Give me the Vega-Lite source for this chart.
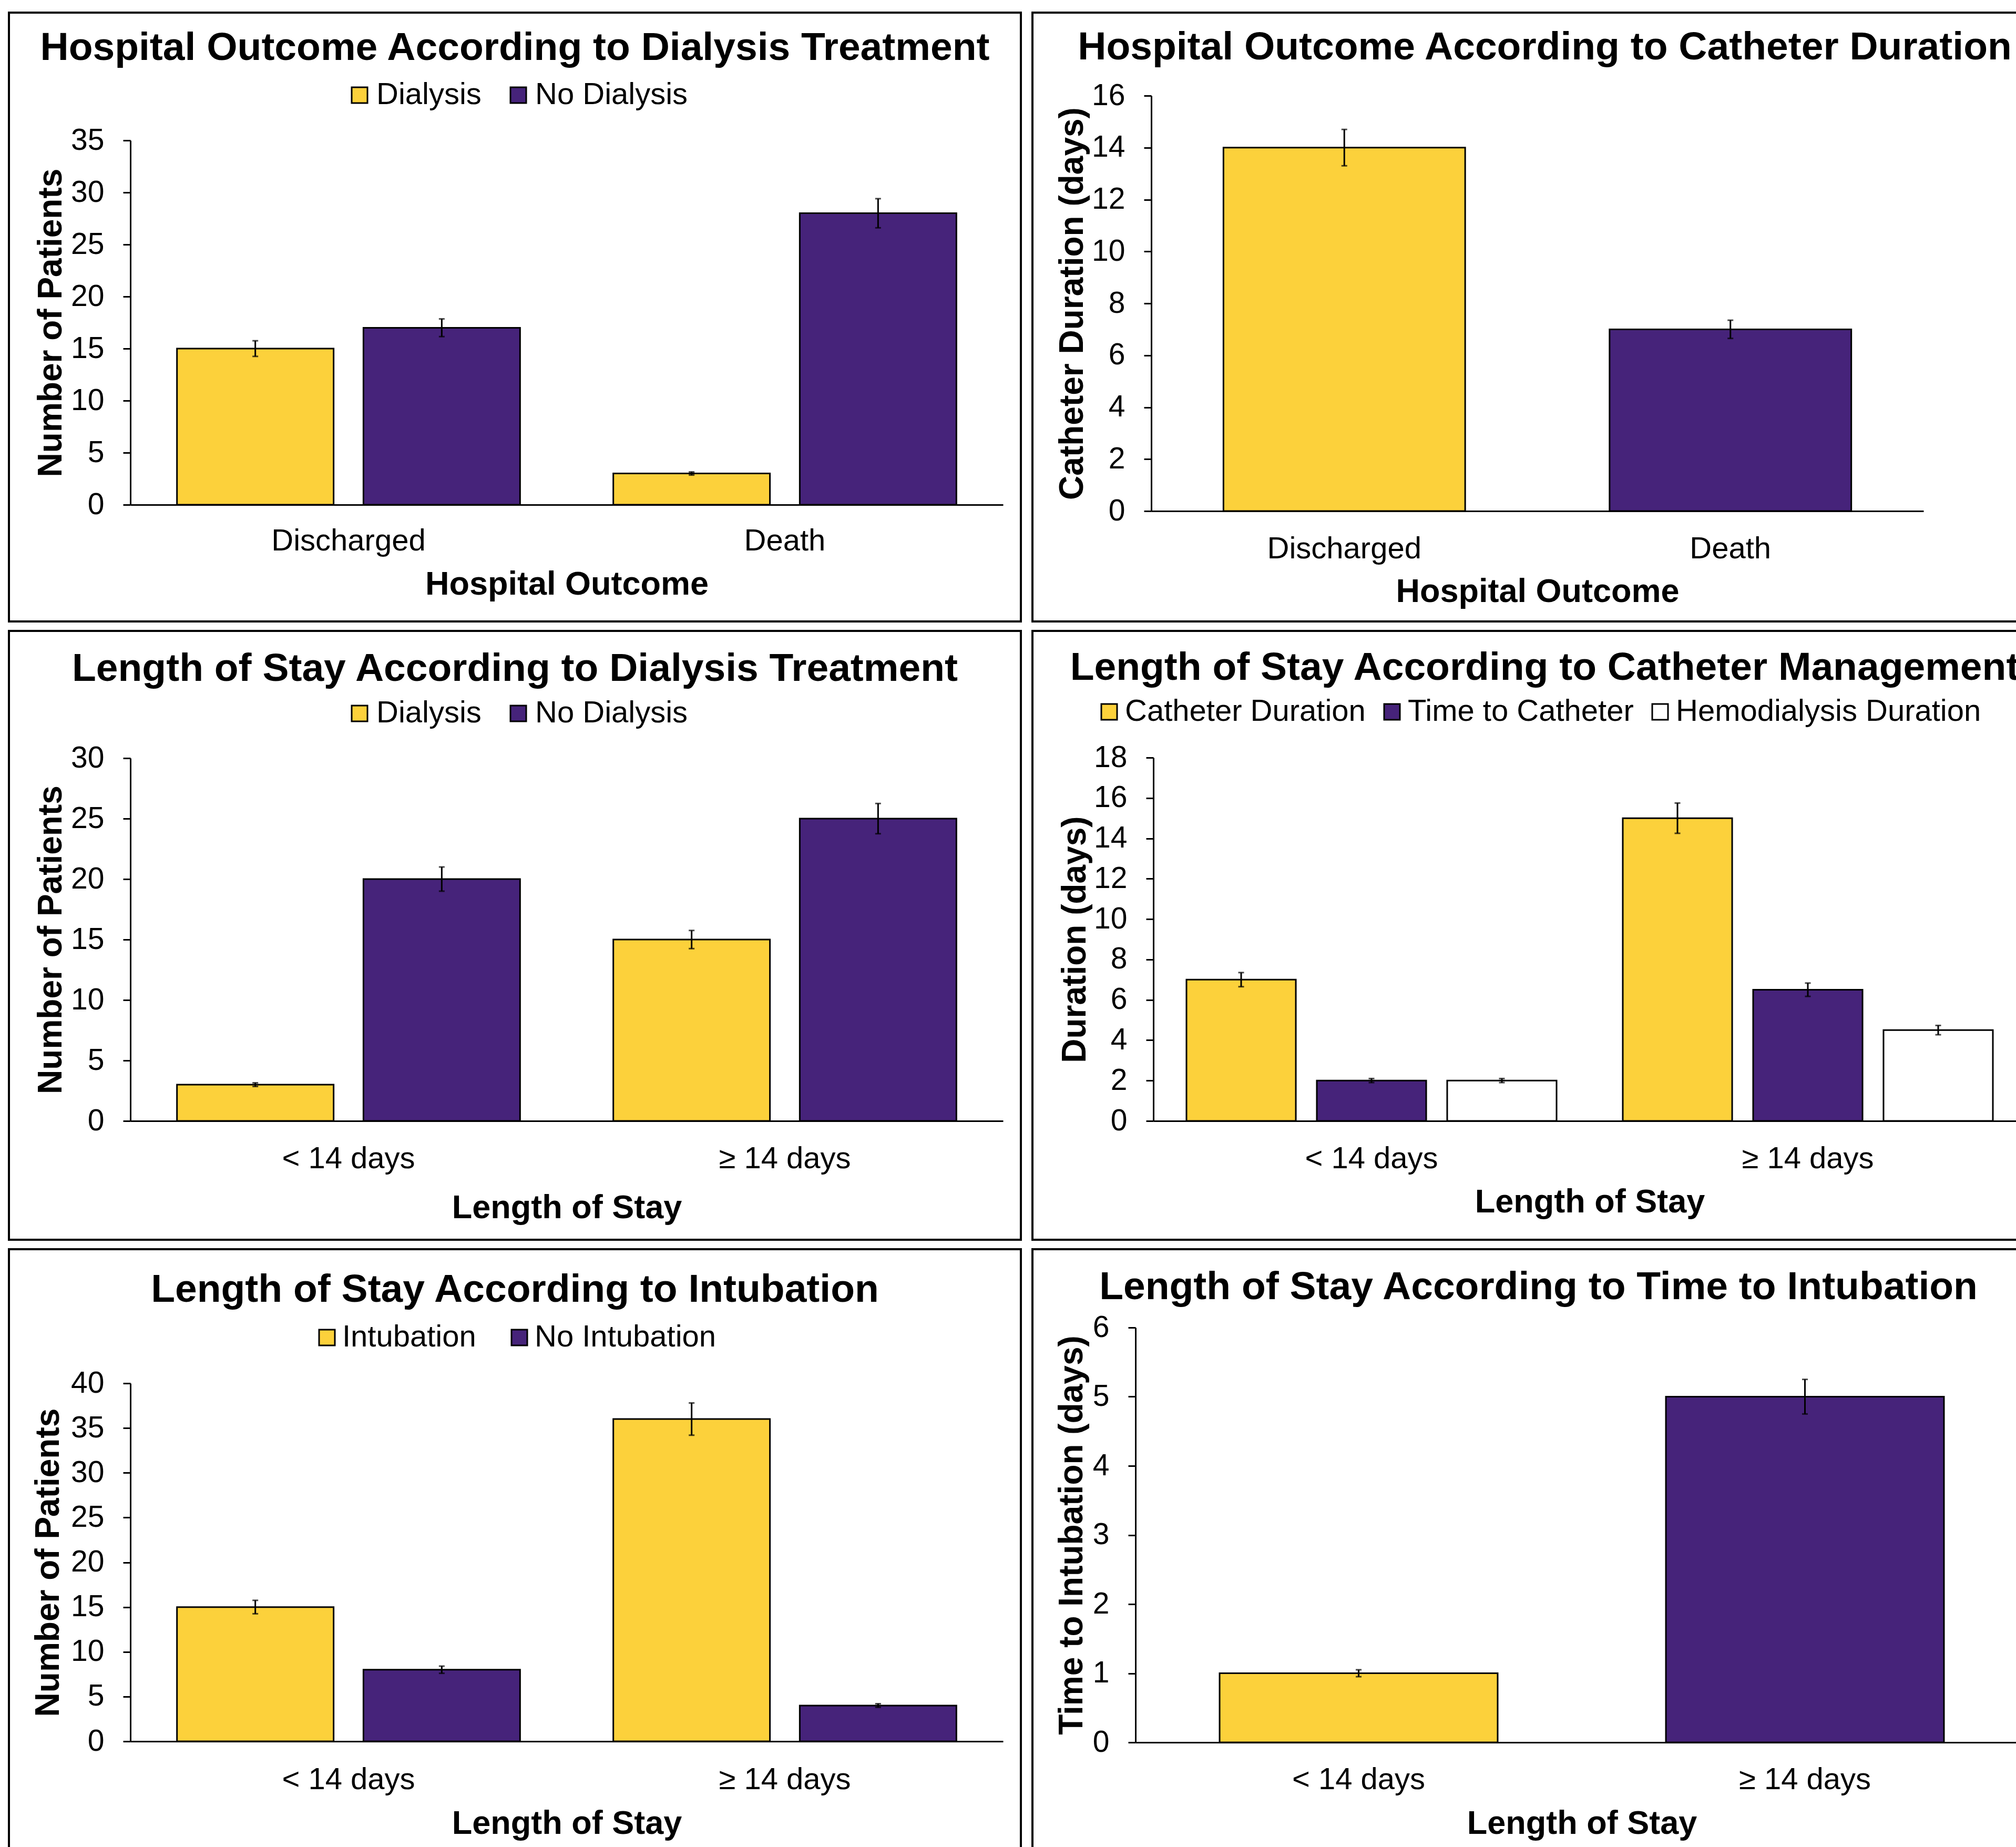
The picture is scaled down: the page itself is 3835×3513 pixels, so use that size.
{
  "$schema": "https://vega.github.io/schema/vega-lite/v6.json",
  "background": "white",
  "padding": {"left": 15, "top": 22, "right": 0, "bottom": 0},
  "columns": 2,
  "align": "each",
  "spacing": {"row": 14, "column": 18},
  "resolve": {
    "scale": {"x": "independent", "y": "independent", "xOffset": "independent", "color": "independent"},
    "legend": {"color": "independent"}
  },
  "config": {
    "font": "Liberation Sans",
    "view": {"stroke": "black", "strokeWidth": 4},
    "title": {"anchor": "middle", "frame": "group", "baseline": "middle", "fontWeight": "bold", "color": "black", "font": "Liberation Sans", "fontSize": 75},
    "axis": {"grid": false, "domainColor": "black", "domainWidth": 3, "tickColor": "black", "tickWidth": 3, "labelColor": "black", "titleColor": "black", "labelFont": "Liberation Sans", "titleFont": "Liberation Sans", "titleFontWeight": "bold", "labelLimit": 2000, "titleLimit": 3000},
    "axisX": {"ticks": false, "tickSize": 0, "labelAngle": 0, "labelFontSize": 58, "titleFontSize": 63, "titleBaseline": "middle"},
    "axisY": {"tickSize": 14, "labelPadding": 36, "labelFontSize": 57, "titleFontSize": 64, "titleBaseline": "middle"},
    "legend": {"orient": "none", "direction": "horizontal", "symbolType": "square", "symbolSize": 900, "symbolStrokeColor": "black", "symbolStrokeWidth": 3, "symbolOpacity": 1, "labelFontSize": 58, "labelColor": "black", "labelFont": "Liberation Sans", "labelLimit": 2000, "padding": 0}
  },
  "concat": [
    {
      "width": 1925, "height": 1158,
      "title": {"text": "Hospital Outcome According to Dialysis Treatment", "offset": -106},
      "data": {"values": [
        {"outcome": "Discharged", "group": "Dialysis", "value": 15, "lo": 14.25, "hi": 15.75},
        {"outcome": "Discharged", "group": "No Dialysis", "value": 17, "lo": 16.15, "hi": 17.85},
        {"outcome": "Death", "group": "Dialysis", "value": 3, "lo": 2.85, "hi": 3.15},
        {"outcome": "Death", "group": "No Dialysis", "value": 28, "lo": 26.6, "hi": 29.4}
      ]},
      "encoding": {
        "x": {"field": "outcome", "type": "nominal", "sort": ["Discharged", "Death"], "scale": {"range": [231, 1891], "paddingInner": 0, "paddingOuter": 0}, "axis": {"title": "Hospital Outcome", "offset": -222, "labelPadding": 40, "titleY": 151}},
        "xOffset": {"field": "group", "type": "nominal", "sort": ["Dialysis", "No Dialysis"], "scale": {"paddingInner": 0.16, "paddingOuter": 0.25}}
      },
      "layer": [
        {"mark": {"type": "bar", "stroke": "black", "strokeWidth": 3},
         "encoding": {
           "y": {"field": "value", "type": "quantitative", "title": "Number of Patients", "scale": {"domain": [0, 35], "range": [936, 243], "nice": false}, "axis": {"values": [0, 5, 10, 15, 20, 25, 30, 35], "format": "d", "offset": -231, "titleX": -151}},
           "color": {"field": "group", "type": "nominal", "sort": ["Dialysis", "No Dialysis"], "scale": {"domain": ["Dialysis", "No Dialysis"], "range": ["#FCD13B", "#46237A"]}, "legend": {"title": null, "legendX": 638, "legendY": 128, "labelOffset": 3, "columnPadding": 41}}
         }},
        {"mark": {"type": "rule", "color": "black", "strokeWidth": 3},
         "encoding": {"y": {"field": "lo", "type": "quantitative", "title": "Number of Patients"}, "y2": {"field": "hi"}}},
        {"mark": {"type": "tick", "color": "black", "size": 11, "thickness": 3},
         "encoding": {"y": {"field": "lo", "type": "quantitative", "title": "Number of Patients"}}},
        {"mark": {"type": "tick", "color": "black", "size": 11, "thickness": 3},
         "encoding": {"y": {"field": "hi", "type": "quantitative", "title": "Number of Patients"}}}
      ]
    },
    {
      "width": 1949, "height": 1158,
      "title": {"text": "Hospital Outcome According to Catheter Duration", "offset": -105},
      "data": {"values": [
        {"outcome": "Discharged", "value": 14, "lo": 13.3, "hi": 14.7},
        {"outcome": "Death", "value": 7, "lo": 6.65, "hi": 7.35}
      ]},
      "encoding": {
        "x": {"field": "outcome", "type": "nominal", "sort": ["Discharged", "Death"], "scale": {"range": [226, 1695], "paddingInner": 0.374, "paddingOuter": 0.187}, "axis": {"title": "Hospital Outcome", "offset": -210, "labelPadding": 43, "titleY": 153}}
      },
      "layer": [
        {"mark": {"type": "bar", "stroke": "black", "strokeWidth": 3},
         "encoding": {
           "y": {"field": "value", "type": "quantitative", "title": "Catheter Duration (days)", "scale": {"domain": [0, 16], "range": [948, 158], "nice": false}, "axis": {"values": [0, 2, 4, 6, 8, 10, 12, 14, 16], "format": "d", "offset": -226, "titleX": -150}},
           "color": {"field": "outcome", "type": "nominal", "scale": {"domain": ["Discharged", "Death"], "range": ["#FCD13B", "#46237A"]}, "legend": null}
         }},
        {"mark": {"type": "rule", "color": "black", "strokeWidth": 3},
         "encoding": {"y": {"field": "lo", "type": "quantitative", "title": "Catheter Duration (days)"}, "y2": {"field": "hi"}}},
        {"mark": {"type": "tick", "color": "black", "size": 11, "thickness": 3},
         "encoding": {"y": {"field": "lo", "type": "quantitative", "title": "Catheter Duration (days)"}}},
        {"mark": {"type": "tick", "color": "black", "size": 11, "thickness": 3},
         "encoding": {"y": {"field": "hi", "type": "quantitative", "title": "Catheter Duration (days)"}}}
      ]
    },
    {
      "width": 1925, "height": 1158,
      "title": {"text": "Length of Stay According to Dialysis Treatment", "offset": -111},
      "data": {"values": [
        {"los": "< 14 days", "group": "Dialysis", "value": 3, "lo": 2.85, "hi": 3.15},
        {"los": "< 14 days", "group": "No Dialysis", "value": 20, "lo": 19, "hi": 21},
        {"los": "≥ 14 days", "group": "Dialysis", "value": 15, "lo": 14.25, "hi": 15.75},
        {"los": "≥ 14 days", "group": "No Dialysis", "value": 25, "lo": 23.75, "hi": 26.25}
      ]},
      "encoding": {
        "x": {"field": "los", "type": "nominal", "sort": ["< 14 days", "≥ 14 days"], "scale": {"range": [231, 1891], "paddingInner": 0, "paddingOuter": 0}, "axis": {"title": "Length of Stay", "offset": -226, "labelPadding": 43, "titleY": 165}},
        "xOffset": {"field": "group", "type": "nominal", "sort": ["Dialysis", "No Dialysis"], "scale": {"paddingInner": 0.16, "paddingOuter": 0.25}}
      },
      "layer": [
        {"mark": {"type": "bar", "stroke": "black", "strokeWidth": 3},
         "encoding": {
           "y": {"field": "value", "type": "quantitative", "title": "Number of Patients", "scale": {"domain": [0, 30], "range": [932, 242], "nice": false}, "axis": {"values": [0, 5, 10, 15, 20, 25, 30], "format": "d", "offset": -231, "titleX": -151}},
           "color": {"field": "group", "type": "nominal", "sort": ["Dialysis", "No Dialysis"], "scale": {"domain": ["Dialysis", "No Dialysis"], "range": ["#FCD13B", "#46237A"]}, "legend": {"title": null, "legendX": 638, "legendY": 128, "labelOffset": 3, "columnPadding": 41}}
         }},
        {"mark": {"type": "rule", "color": "black", "strokeWidth": 3},
         "encoding": {"y": {"field": "lo", "type": "quantitative", "title": "Number of Patients"}, "y2": {"field": "hi"}}},
        {"mark": {"type": "tick", "color": "black", "size": 11, "thickness": 3},
         "encoding": {"y": {"field": "lo", "type": "quantitative", "title": "Number of Patients"}}},
        {"mark": {"type": "tick", "color": "black", "size": 11, "thickness": 3},
         "encoding": {"y": {"field": "hi", "type": "quantitative", "title": "Number of Patients"}}}
      ]
    },
    {
      "width": 1949, "height": 1158,
      "title": {"text": "Length of Stay According to Catheter Management", "offset": -109},
      "data": {"values": [
        {"los": "< 14 days", "group": "Catheter Duration", "value": 7, "lo": 6.65, "hi": 7.35},
        {"los": "< 14 days", "group": "Time to Catheter", "value": 2, "lo": 1.9, "hi": 2.1},
        {"los": "< 14 days", "group": "Hemodialysis Duration", "value": 2, "lo": 1.9, "hi": 2.1},
        {"los": "≥ 14 days", "group": "Catheter Duration", "value": 15, "lo": 14.25, "hi": 15.75},
        {"los": "≥ 14 days", "group": "Time to Catheter", "value": 6.5, "lo": 6.17, "hi": 6.83},
        {"los": "≥ 14 days", "group": "Hemodialysis Duration", "value": 4.5, "lo": 4.27, "hi": 4.73}
      ]},
      "encoding": {
        "x": {"field": "los", "type": "nominal", "sort": ["< 14 days", "≥ 14 days"], "scale": {"range": [230, 1890], "paddingInner": 0, "paddingOuter": 0}, "axis": {"title": "Length of Stay", "offset": -226, "labelPadding": 43, "titleY": 154}},
        "xOffset": {"field": "group", "type": "nominal", "sort": ["Catheter Duration", "Time to Catheter", "Hemodialysis Duration"], "scale": {"paddingInner": 0.161, "paddingOuter": 0.254}}
      },
      "layer": [
        {"mark": {"type": "bar", "stroke": "black", "strokeWidth": 3},
         "encoding": {
           "y": {"field": "value", "type": "quantitative", "title": "Duration (days)", "scale": {"domain": [0, 18], "range": [932, 241], "nice": false}, "axis": {"values": [0, 2, 4, 6, 8, 10, 12, 14, 16, 18], "format": "d", "offset": -230, "titleX": -149}},
           "color": {"field": "group", "type": "nominal", "sort": ["Catheter Duration", "Time to Catheter", "Hemodialysis Duration"], "scale": {"domain": ["Catheter Duration", "Time to Catheter", "Hemodialysis Duration"], "range": ["#FCD13B", "#46237A", "#FFFFFF"]}, "legend": {"title": null, "legendX": 117, "legendY": 125, "labelOffset": 1, "columnPadding": 21}}
         }},
        {"mark": {"type": "rule", "color": "black", "strokeWidth": 3},
         "encoding": {"y": {"field": "lo", "type": "quantitative", "title": "Duration (days)"}, "y2": {"field": "hi"}}},
        {"mark": {"type": "tick", "color": "black", "size": 11, "thickness": 3},
         "encoding": {"y": {"field": "lo", "type": "quantitative", "title": "Duration (days)"}}},
        {"mark": {"type": "tick", "color": "black", "size": 11, "thickness": 3},
         "encoding": {"y": {"field": "hi", "type": "quantitative", "title": "Duration (days)"}}}
      ]
    },
    {
      "width": 1925, "height": 1158,
      "title": {"text": "Length of Stay According to Intubation", "offset": -116},
      "data": {"values": [
        {"los": "< 14 days", "group": "Intubation", "value": 15, "lo": 14.25, "hi": 15.75},
        {"los": "< 14 days", "group": "No Intubation", "value": 8, "lo": 7.6, "hi": 8.4},
        {"los": "≥ 14 days", "group": "Intubation", "value": 36, "lo": 34.2, "hi": 37.8},
        {"los": "≥ 14 days", "group": "No Intubation", "value": 4, "lo": 3.8, "hi": 4.2}
      ]},
      "encoding": {
        "x": {"field": "los", "type": "nominal", "sort": ["< 14 days", "≥ 14 days"], "scale": {"range": [231, 1891], "paddingInner": 0, "paddingOuter": 0}, "axis": {"title": "Length of Stay", "offset": -222, "labelPadding": 44, "titleY": 156}},
        "xOffset": {"field": "group", "type": "nominal", "sort": ["Intubation", "No Intubation"], "scale": {"paddingInner": 0.16, "paddingOuter": 0.25}}
      },
      "layer": [
        {"mark": {"type": "bar", "stroke": "black", "strokeWidth": 3},
         "encoding": {
           "y": {"field": "value", "type": "quantitative", "title": "Number of Patients", "scale": {"domain": [0, 40], "range": [936, 255], "nice": false}, "axis": {"values": [0, 5, 10, 15, 20, 25, 30, 35, 40], "format": "d", "offset": -231, "titleX": -156}},
           "color": {"field": "group", "type": "nominal", "sort": ["Intubation", "No Intubation"], "scale": {"domain": ["Intubation", "No Intubation"], "range": ["#FCD13B", "#46237A"]}, "legend": {"title": null, "legendX": 576, "legendY": 139, "labelOffset": 0, "columnPadding": 53}}
         }},
        {"mark": {"type": "rule", "color": "black", "strokeWidth": 3},
         "encoding": {"y": {"field": "lo", "type": "quantitative", "title": "Number of Patients"}, "y2": {"field": "hi"}}},
        {"mark": {"type": "tick", "color": "black", "size": 11, "thickness": 3},
         "encoding": {"y": {"field": "lo", "type": "quantitative", "title": "Number of Patients"}}},
        {"mark": {"type": "tick", "color": "black", "size": 11, "thickness": 3},
         "encoding": {"y": {"field": "hi", "type": "quantitative", "title": "Number of Patients"}}}
      ]
    },
    {
      "width": 1949, "height": 1158,
      "title": {"text": "Length of Stay According to Time to Intubation", "offset": -111, "dx": -12},
      "data": {"values": [
        {"los": "< 14 days", "value": 1, "lo": 0.95, "hi": 1.05},
        {"los": "≥ 14 days", "value": 5, "lo": 4.75, "hi": 5.25}
      ]},
      "encoding": {
        "x": {"field": "los", "type": "nominal", "sort": ["< 14 days", "≥ 14 days"], "scale": {"range": [196, 1894], "paddingInner": 0.377, "paddingOuter": 0.1885}, "axis": {"title": "Length of Stay", "offset": -220, "labelPadding": 42, "titleY": 154}}
      },
      "layer": [
        {"mark": {"type": "bar", "stroke": "black", "strokeWidth": 3},
         "encoding": {
           "y": {"field": "value", "type": "quantitative", "title": "Time to Intubation (days)", "scale": {"domain": [0, 6], "range": [938, 149], "nice": false}, "axis": {"values": [0, 1, 2, 3, 4, 5, 6], "format": "d", "offset": -196, "titleX": -121}},
           "color": {"field": "los", "type": "nominal", "scale": {"domain": ["< 14 days", "≥ 14 days"], "range": ["#FCD13B", "#46237A"]}, "legend": null}
         }},
        {"mark": {"type": "rule", "color": "black", "strokeWidth": 3},
         "encoding": {"y": {"field": "lo", "type": "quantitative", "title": "Time to Intubation (days)"}, "y2": {"field": "hi"}}},
        {"mark": {"type": "tick", "color": "black", "size": 11, "thickness": 3},
         "encoding": {"y": {"field": "lo", "type": "quantitative", "title": "Time to Intubation (days)"}}},
        {"mark": {"type": "tick", "color": "black", "size": 11, "thickness": 3},
         "encoding": {"y": {"field": "hi", "type": "quantitative", "title": "Time to Intubation (days)"}}}
      ]
    }
  ]
}
